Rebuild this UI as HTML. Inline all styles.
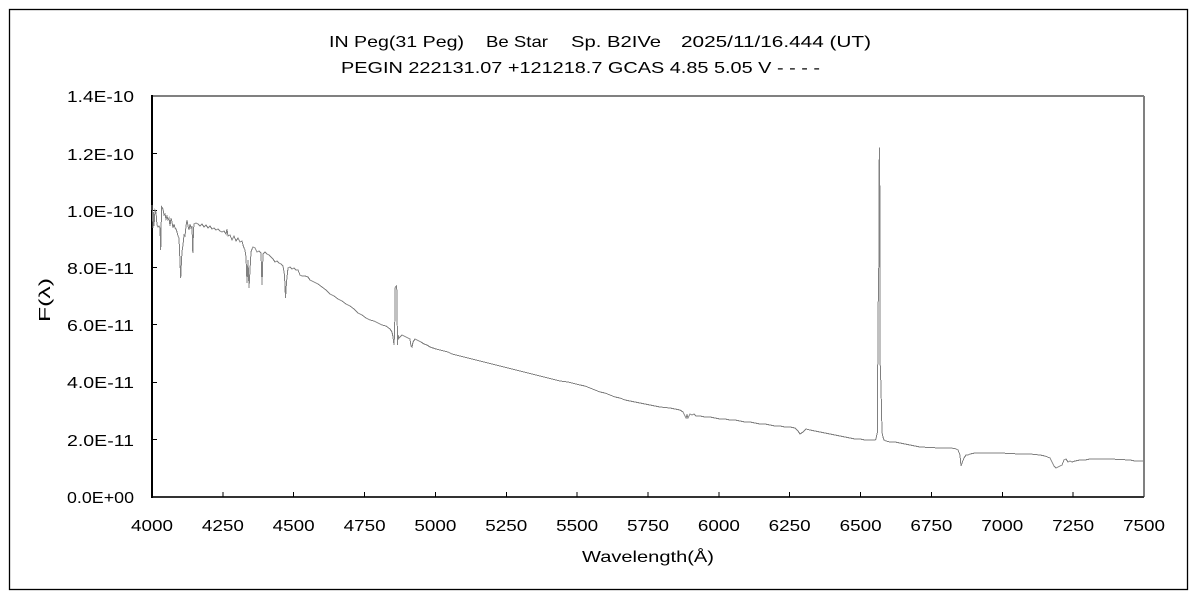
<!DOCTYPE html>
<html>
<head>
<meta charset="utf-8">
<style>
html,body{margin:0;padding:0;background:#fff;}
svg{display:block;}
text{font-family:"Liberation Sans","Noto Sans CJK JP",sans-serif;fill:#000;}
</style>
</head>
<body>
<svg width="1200" height="600" viewBox="0 0 1200 600" xmlns="http://www.w3.org/2000/svg">
<rect x="0" y="0" width="1200" height="600" fill="#fff"/>
<rect x="9.5" y="9.5" width="1178" height="580" fill="none" stroke="#000" stroke-width="1.3"/>

<!-- titles -->
<g font-size="16">
<text x="329" y="47" textLength="135" lengthAdjust="spacingAndGlyphs">IN Peg(31 Peg)</text>
<text x="486" y="47" textLength="62" lengthAdjust="spacingAndGlyphs">Be Star</text>
<text x="571" y="47" textLength="90" lengthAdjust="spacingAndGlyphs">Sp. B2IVe</text>
<text x="681" y="47" textLength="190" lengthAdjust="spacingAndGlyphs">2025/11/16.444 (UT)</text>
<text x="341" y="73" textLength="479" lengthAdjust="spacingAndGlyphs" xml:space="preserve">PEGIN 222131.07 +121218.7 GCAS 4.85 5.05 V - - - -</text>
</g>

<!-- plot frame -->
<line x1="152" y1="96" x2="1144" y2="96" stroke="#808080" stroke-width="2"/>
<line x1="1144" y1="96" x2="1144" y2="497" stroke="#808080" stroke-width="2"/>
<line x1="152" y1="497" x2="1144" y2="497" stroke="#333" stroke-width="2"/>
<line x1="152" y1="95" x2="152" y2="498" stroke="#000" stroke-width="2"/>

<!-- y ticks -->
<g stroke="#000" stroke-width="1" shape-rendering="crispEdges">
<line x1="152" y1="153.5" x2="157" y2="153.5"/>
<line x1="152" y1="210.5" x2="157" y2="210.5"/>
<line x1="152" y1="267.5" x2="157" y2="267.5"/>
<line x1="152" y1="324.5" x2="157" y2="324.5"/>
<line x1="152" y1="382.5" x2="157" y2="382.5"/>
<line x1="152" y1="439.5" x2="157" y2="439.5"/>
</g>
<!-- x ticks -->
<g stroke="#000" stroke-width="1" shape-rendering="crispEdges">
<line x1="222.9" y1="497" x2="222.9" y2="492"/>
<line x1="293.7" y1="497" x2="293.7" y2="492"/>
<line x1="364.6" y1="497" x2="364.6" y2="492"/>
<line x1="435.4" y1="497" x2="435.4" y2="492"/>
<line x1="506.3" y1="497" x2="506.3" y2="492"/>
<line x1="577.1" y1="497" x2="577.1" y2="492"/>
<line x1="648" y1="497" x2="648" y2="492"/>
<line x1="718.9" y1="497" x2="718.9" y2="492"/>
<line x1="789.7" y1="497" x2="789.7" y2="492"/>
<line x1="860.6" y1="497" x2="860.6" y2="492"/>
<line x1="931.4" y1="497" x2="931.4" y2="492"/>
<line x1="1002.3" y1="497" x2="1002.3" y2="492"/>
<line x1="1073.1" y1="497" x2="1073.1" y2="492"/>
</g>

<!-- y labels -->
<g font-size="16">
<text x="67" y="102" textLength="67" lengthAdjust="spacingAndGlyphs">1.4E-10</text>
<text x="67" y="160" textLength="67" lengthAdjust="spacingAndGlyphs">1.2E-10</text>
<text x="67" y="217" textLength="67" lengthAdjust="spacingAndGlyphs">1.0E-10</text>
<text x="67" y="274" textLength="67" lengthAdjust="spacingAndGlyphs">8.0E-11</text>
<text x="67" y="331" textLength="67" lengthAdjust="spacingAndGlyphs">6.0E-11</text>
<text x="67" y="388" textLength="67" lengthAdjust="spacingAndGlyphs">4.0E-11</text>
<text x="67" y="446" textLength="67" lengthAdjust="spacingAndGlyphs">2.0E-11</text>
<text x="67" y="503" textLength="67" lengthAdjust="spacingAndGlyphs">0.0E+00</text>
</g>
<!-- x labels -->
<g font-size="16">
<text x="131" y="531" textLength="42" lengthAdjust="spacingAndGlyphs">4000</text>
<text x="201.9" y="531" textLength="42" lengthAdjust="spacingAndGlyphs">4250</text>
<text x="272.7" y="531" textLength="42" lengthAdjust="spacingAndGlyphs">4500</text>
<text x="343.6" y="531" textLength="42" lengthAdjust="spacingAndGlyphs">4750</text>
<text x="414.4" y="531" textLength="42" lengthAdjust="spacingAndGlyphs">5000</text>
<text x="485.3" y="531" textLength="42" lengthAdjust="spacingAndGlyphs">5250</text>
<text x="556.1" y="531" textLength="42" lengthAdjust="spacingAndGlyphs">5500</text>
<text x="627" y="531" textLength="42" lengthAdjust="spacingAndGlyphs">5750</text>
<text x="697.9" y="531" textLength="42" lengthAdjust="spacingAndGlyphs">6000</text>
<text x="768.7" y="531" textLength="42" lengthAdjust="spacingAndGlyphs">6250</text>
<text x="839.6" y="531" textLength="42" lengthAdjust="spacingAndGlyphs">6500</text>
<text x="910.4" y="531" textLength="42" lengthAdjust="spacingAndGlyphs">6750</text>
<text x="981.3" y="531" textLength="42" lengthAdjust="spacingAndGlyphs">7000</text>
<text x="1052.1" y="531" textLength="42" lengthAdjust="spacingAndGlyphs">7250</text>
<text x="1123" y="531" textLength="42" lengthAdjust="spacingAndGlyphs">7500</text>
</g>
<text x="582" y="562" font-size="16" textLength="132" lengthAdjust="spacingAndGlyphs">Wavelength(Å)</text>
<text x="-22" y="0" font-size="16" textLength="44" lengthAdjust="spacingAndGlyphs" transform="translate(50,300) rotate(-90)">F(λ)</text>

<!-- spectrum -->
<polyline fill="none" stroke="#808080" stroke-width="1" shape-rendering="crispEdges" points="
152,205 152.5,215 153,228 153.5,212 154,226 155,210 156,212 157,225 158,227 159,226 160,228 160.7,250 161.3,220 161.7,207 163,209 164,215 165,214 166,219 167,216 168,220 169,218 170,226 171,218 172,222 173,228 174,224 175,228 176,229 177,232 178,236 179,238 180,262 180.7,278 181.5,260 182,252 183,245 184,235 185,236 186,226 187,220 188,226 189,230 190,224 191,228 192,226 192.8,253 193.5,230 194,224 196,223 198,224 200,226 202,224 204,227 206,225 208,228 210,226 212,229 214,228 216,230 218,229 220,231 222,232 224,231 226,234 227,229 228,236 230,235 232,240 234,236 236,241 238,238 240,242 242,241 243,245 244,248 245,250 246,257 247,283 248,260 249,288 250,270 251,252 252,249 253,247 255,248 257,252 259,251 261,253 262,285 263,254 265,252 267,254 269,255 271,257 273,259 275,262 277,261 279,263 281,264 283,266 284.5,275 285.5,298 286.5,282 288,268 290,267 292,269 294,268 296,270 298,270 300,275 302,276 305,276 308,277 310,280 314,282 318,284 322,287 326,290 330,294 334,296 338,299 342,301 346,304 350,306 354,309 358,313 362,315 366,318 370,320 374,321 378,323 382,325 386,326 390,329 392,332 393,337 394,345 394.7,330 395,288 396.3,286 396.8,290 397.5,345 398,335 399,338 400,337 402,335 404,336 406,337 408,338 410,339 411,346 412,347 413,342 415,339 417,340 419,341 421,342 424,344 427,345 430,347 433,348 436,349 440,350 444,351 448,352 452,354 456,355 460,356 464,357 468,358 472,359 476,360 480,361 484,362 488,363 492,364 496,365 500,366 504,367 508,368 512,369 516,370 520,371 524,372 528,373 532,374 536,375 540,376 544,377 548,378 552,379 556,380 560,381 564,381.5 568,382 572,383 576,384 580,385 585,386 590,388 595,390 600,392 605,393 610,395 615,397 620,398 625,400 630,401 635,402 640,403 645,404 650,405 655,406 660,407 665,407.5 670,408 675,409 680,410 683,412 685,416 686,418 687,415 688,418 690,414 692,415 694,414 696,416 698,416 700,416 705,417 710,417 715,418 720,419 725,419 730,420 735,420 740,421 745,422 750,422 755,423 760,424 765,424 770,425 775,426 780,426 785,427 790,427 795,428 798,431 800,434 803,432 806,429 810,430 815,431 820,432 825,433 830,434 835,435 840,436 845,437 850,438 855,439 860,439 865,440 870,440 875,440 876,439 877,434 877.5,432 878,303 878.5,300 879,238 879.3,148 879.7,148 880,358 881,387 882,432 883,437 884,440 886,441 890,442 895,442 900,443 905,444 910,445 915,446 920,447 930,447.5 940,448 950,448 955,448.5 958,450 960,455 961,466 962,463 964,458 966,455 968,455 970,454 975,453 980,453 990,453 1000,453 1010,453.5 1020,454 1030,454 1040,455 1045,456 1050,458 1052,462 1054,466 1056,468 1058,467 1060,466 1062,465 1064,460 1066,459 1068,462 1070,461 1072,462 1075,461 1080,460 1085,460 1090,459 1095,459 1100,459 1110,459 1120,459.5 1130,460 1135,461 1140,461 1144,461"/>
</svg>
</body>
</html>
